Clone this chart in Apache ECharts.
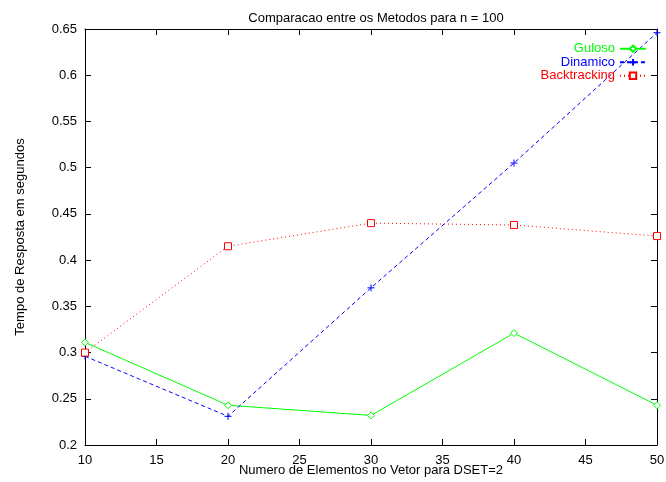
<!DOCTYPE html>
<html><head><meta charset="utf-8">
<script src="https://cdn.jsdelivr.net/npm/echarts@6/dist/echarts.min.js"></script>
<style>html,body{margin:0;padding:0;background:#fff}#c{width:666px;height:482px}</style>
</head><body><div id="c"></div>
<script>
const xValues = [10, 20, 30, 40, 50];
const guloso = [0.311, 0.243, 0.232, 0.321, 0.243];
const dinamico = [0.296, 0.231, 0.370, 0.505, 0.646];
const backtracking = [0.300, 0.415, 0.440, 0.438, 0.426];
const titleText = 'Comparacao entre os Metodos para n = 100';
const xName = 'Numero de Elementos no Vetor para DSET=2';
const yName = 'Tempo de Resposta em segundos';

const font = 'Liberation Sans, Arial, sans-serif';
const pair = arr => xValues.map((x, i) => [x, arr[i]]);
const chart = echarts.init(document.getElementById('c'));
const axisCommon = {
  axisLine: {lineStyle: {color: '#000', width: 1}},
  axisTick: {inside: true, length: 6, lineStyle: {color: '#000'}},
  splitLine: {show: false}
};
function mk(name, data, color, symbol, dash) {
  return {
    name, type: 'line', data: pair(data), symbol, symbolSize: 7,
    lineStyle: {color, width: 1, type: dash},
    itemStyle: {color: '#fff', borderColor: color, borderWidth: 1},
    animation: false
  };
}
chart.setOption({
  animation: false,
  title: {text: titleText, left: 371, top: 7, textAlign: 'center',
    textStyle: {fontFamily: font, fontSize: 13, fontWeight: 'normal', color: '#000'}},
  legend: {
    orient: 'vertical', right: 19, top: 42, align: 'right', itemWidth: 26, itemHeight: 8, itemGap: 0,
    padding: 0,
    textStyle: {fontFamily: font, fontSize: 13, lineHeight: 13.5, padding: [0, 0, 0, 0]},
    data: [
      {name: 'Guloso', textStyle: {color: '#00ff00'}},
      {name: 'Dinamico', textStyle: {color: '#0000ff'}},
      {name: 'Backtracking', textStyle: {color: '#ff0000'}}
    ]
  },
  grid: {left: 85, right: 9, top: 29, bottom: 37, outerBoundsMode: 'none', containLabel: false},
  xAxis: [
    Object.assign({type: 'value', min: 10, max: 50, interval: 5, name: xName, nameLocation: 'middle', nameGap: 19,
      nameMoveOverlap: false,
      nameTextStyle: {fontFamily: font, fontSize: 13, color: '#000'},
      axisLabel: {fontFamily: font, fontSize: 13, color: '#000', margin: 9}}, axisCommon),
    Object.assign({type: 'value', position: 'top', min: 10, max: 50, interval: 5, axisLabel: {show: false}}, axisCommon)
  ],
  yAxis: [
    Object.assign({type: 'value', min: 0.2, max: 0.65, interval: 0.05, name: yName, nameLocation: 'middle', nameGap: 58,
      nameMoveOverlap: false,
      nameTextStyle: {fontFamily: font, fontSize: 13, color: '#000'},
      axisLabel: {fontFamily: font, fontSize: 13, color: '#000', margin: 8,
        formatter: v => String(Math.round(v * 100) / 100)}}, axisCommon),
    Object.assign({type: 'value', position: 'right', min: 0.2, max: 0.65, interval: 0.05, axisLabel: {show: false}}, axisCommon)
  ],
  series: [
    mk('Guloso', guloso, '#00ff00', 'diamond', 'solid'),
    mk('Dinamico', dinamico, '#0000ff', 'path://M5,0L5,10M0,5L10,5', [4, 3]),
    mk('Backtracking', backtracking, '#ff0000', 'rect', [1, 3])
  ]
});
</script></body></html>
